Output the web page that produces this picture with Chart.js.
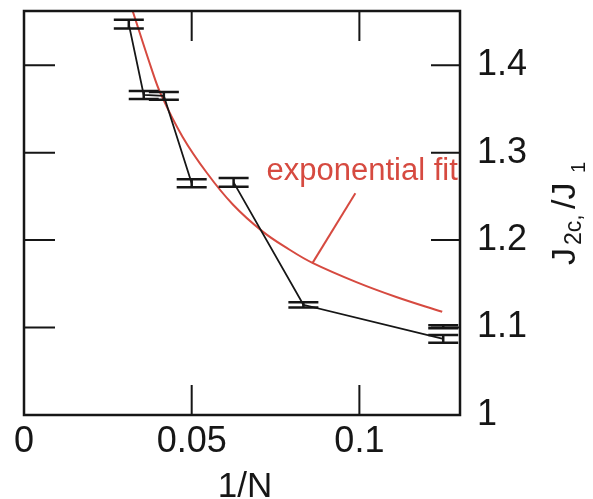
<!DOCTYPE html>
<html>
<head>
<meta charset="utf-8">
<script src="https://cdn.jsdelivr.net/npm/chart.js@4/dist/chart.umd.min.js"></script>
<style>
  html, body { margin: 0; padding: 0; background: #fff; }
  #wrap { width: 593px; height: 499px; }
</style>
</head>
<body>
<div id="wrap"><canvas id="gap" width="593" height="499"></canvas></div>
<script>

// critical coupling vs 1/N, two branches of system sizes
var upperX = [0.03125, 0.0357, 0.0417, 0.05];
var upperY = [1.447, 1.366, 1.365, 1.265];
var upperErr = [0.005, 0.0045, 0.0045, 0.0045];

var lowerX = [0.0625, 0.0833, 0.125];
var lowerY = [1.266, 1.126, 1.087];
var lowerErr = [0.005, 0.003, 0.0045];

// lone point at 1/N = 1/8
var extraX = [0.125];
var extraY = [1.101];
var extraErr = [0.0017];

// exponential fit
var fitX = [0.0324, 0.0381, 0.0408, 0.0473, 0.0545, 0.0622, 0.0711, 0.0792, 0.086, 0.0991, 0.111, 0.1247];
var fitY = [1.462, 1.395, 1.367, 1.318, 1.277, 1.241, 1.210, 1.189, 1.174, 1.152, 1.135, 1.118];

// leader line of the fit label
var leaderX = [0.086, 0.0988];
var leaderY = [1.1737, 1.2537];
var fitLabel = "exponential fit";
var fitLabelAt = [0.0723, 1.2686];

var xTicks = [0, 0.05, 0.1];
var yTicks = [1, 1.1, 1.2, 1.3, 1.4];

var RED = "#d64a40";
var INK = "#161616";
var FONT = "'Liberation Sans', Arial, Helvetica, sans-serif";

function pts(xs, ys) {
  var out = [];
  for (var i = 0; i < xs.length; i++) {
    out.push({ x: xs[i], y: ys[i] });
  }
  return out;
}

var errs = { 0: upperErr, 1: lowerErr, 2: extraErr };

var framePlugin = {
  id: "frame",
  afterDatasetsDraw: function(chart) {
    var ctx = chart.ctx;
    var a = chart.chartArea;
    var xs = chart.scales.x;
    var ys = chart.scales.y;

    ctx.save();
    ctx.strokeStyle = INK;
    ctx.lineCap = "butt";

    // error bars with wide caps
    Object.keys(errs).forEach(function(k) {
      var ds = chart.data.datasets[k];
      var e = errs[k];
      ds.data.forEach(function(p, i) {
        var px = xs.getPixelForValue(p.x);
        var yTop = ys.getPixelForValue(p.y + e[i]);
        var yBot = ys.getPixelForValue(p.y - e[i]);
        ctx.lineWidth = 2.5;
        ctx.beginPath();
        ctx.moveTo(px, yTop);
        ctx.lineTo(px, yBot);
        ctx.moveTo(px - 15, yTop);
        ctx.lineTo(px + 15, yTop);
        ctx.moveTo(px - 15, yBot);
        ctx.lineTo(px + 15, yBot);
        ctx.stroke();
      });
    });

    // box frame
    ctx.lineWidth = 2.5;
    ctx.strokeRect(a.left, a.top, a.right - a.left, a.bottom - a.top);

    // inward tick marks on all four sides
    ctx.lineWidth = 2;
    ctx.beginPath();
    xTicks.forEach(function(v) {
      var px = xs.getPixelForValue(v);
      ctx.moveTo(px, a.bottom);
      ctx.lineTo(px, a.bottom - 30);
      ctx.moveTo(px, a.top);
      ctx.lineTo(px, a.top + 30);
    });
    yTicks.forEach(function(v) {
      var py = ys.getPixelForValue(v);
      ctx.moveTo(a.left, py);
      ctx.lineTo(a.left + 31, py);
      ctx.moveTo(a.right, py);
      ctx.lineTo(a.right - 29, py);
    });
    ctx.stroke();

    // fit label
    ctx.fillStyle = RED;
    ctx.font = "31px " + FONT;
    ctx.textAlign = "left";
    ctx.textBaseline = "alphabetic";
    ctx.fillText(fitLabel, xs.getPixelForValue(fitLabelAt[0]), ys.getPixelForValue(fitLabelAt[1]));

    // x axis title
    ctx.fillStyle = INK;
    ctx.font = "35px " + FONT;
    ctx.textAlign = "center";
    ctx.fillText("1/N", (a.left + a.right) / 2 + 3, 497);

    // y axis title, rotated, with subscripts
    ctx.translate(575, (a.top + a.bottom) / 2 + 52);
    ctx.rotate(-Math.PI / 2);
    ctx.textAlign = "left";
    ctx.font = "34px " + FONT;
    ctx.fillText("J", 0, 0);
    ctx.font = "23px " + FONT;
    ctx.fillText("2c,", 20, 6);
    ctx.font = "34px " + FONT;
    ctx.fillText("/J", 56, 0);
    ctx.font = "20px " + FONT;
    ctx.fillText("1", 92, 10);
    ctx.restore();
  }
};

var ctx = document.getElementById("gap");
new Chart(ctx, {
  type: "scatter",
  data: {
    datasets: [{
      data: pts(upperX, upperY),
      showLine: true,
      borderColor: INK,
      borderWidth: 1.8,
      pointRadius: 0
    }, {
      data: pts(lowerX, lowerY),
      showLine: true,
      borderColor: INK,
      borderWidth: 1.8,
      pointRadius: 0
    }, {
      data: pts(extraX, extraY),
      showLine: false,
      pointRadius: 0
    }, {
      data: pts(fitX, fitY),
      showLine: true,
      borderColor: RED,
      borderWidth: 2,
      tension: 0.4,
      pointRadius: 0
    }, {
      data: pts(leaderX, leaderY),
      showLine: true,
      borderColor: RED,
      borderWidth: 2,
      pointRadius: 0
    }]
  },
  options: {
    responsive: false,
    animation: false,
    layout: { padding: { left: 24, top: 11, right: 0, bottom: 0 } },
    plugins: { legend: { display: false }, tooltip: { enabled: false } },
    scales: {
      x: {
        type: "linear",
        position: "bottom",
        min: 0,
        max: 0.13,
        afterBuildTicks: function(s) { s.ticks = xTicks.map(function(v) { return { value: v }; }); },
        afterFit: function(s) {
          s.height = 84;
          s.paddingLeft = 0;
          s.paddingRight = 0;
        },
        grid: { display: false, drawTicks: false },
        border: { display: false },
        ticks: {
          autoSkip: false,
          maxRotation: 0,
          minRotation: 0,
          padding: 5,
          color: INK,
          font: { family: FONT, size: 36 },
          callback: function(v) { return String(v); }
        }
      },
      y: {
        type: "linear",
        position: "right",
        min: 1,
        max: 1.462,
        afterBuildTicks: function(s) { s.ticks = yTicks.map(function(v) { return { value: v }; }); },
        afterFit: function(s) {
          s.width = 133;
          s.paddingTop = 0;
          s.paddingBottom = 0;
        },
        grid: { display: false, drawTicks: false },
        border: { display: false },
        ticks: {
          autoSkip: false,
          padding: 17,
          color: INK,
          font: { family: FONT, size: 36 },
          callback: function(v) { return String(v); }
        }
      }
    }
  },
  plugins: [framePlugin]
});
</script>
</body>
</html>
